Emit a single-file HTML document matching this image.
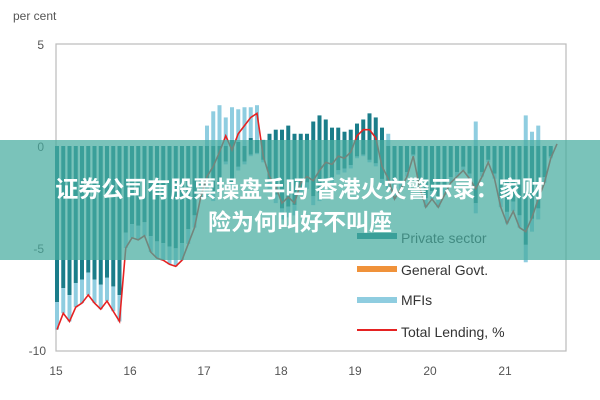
<!DOCTYPE html>
<html><head><meta charset="utf-8"><style>
html,body{margin:0;padding:0;background:#fff;}
#w{position:relative;width:600px;height:400px;overflow:hidden;font-family:"Liberation Sans",sans-serif;}
#banner{position:absolute;left:0;top:140px;width:600px;height:120px;background:rgba(70,172,160,0.72);color:#fff;font-family:"Liberation Sans","Noto Sans CJK SC",sans-serif;font-weight:bold;font-size:23px;text-align:center;line-height:33px;}
#banner div{position:absolute;left:0;width:600px;}
</style></head><body><div id="w">
<svg id="s" width="600" height="400" xmlns="http://www.w3.org/2000/svg" font-family="Liberation Sans, sans-serif">
<text x="13" y="20" font-size="12" fill="#555">per cent</text>
<rect x="56" y="44" width="510" height="307" fill="none" stroke="#bbb" stroke-width="1.2"/>
<g font-size="12" fill="#555" text-anchor="end">
<text x="44" y="49">5</text><text x="44" y="151">0</text><text x="44" y="253">-5</text><text x="46" y="355">-10</text></g>
<g font-size="12" fill="#555" text-anchor="middle">
<text x="56" y="375">15</text><text x="130" y="375">16</text><text x="204" y="375">17</text><text x="281" y="375">18</text><text x="355" y="375">19</text><text x="430" y="375">20</text><text x="505" y="375">21</text></g>
<g id="bars"></g>
<polyline id="line" fill="none" stroke="#e52222" stroke-width="1.6"/>
<g font-size="14" fill="#333">
<rect x="357" y="233" width="40" height="6" fill="#1b7d8a"/><text x="401" y="243">Private sector</text>
<rect x="357" y="266" width="40" height="6" fill="#f0923a"/><text x="401" y="275">General Govt.</text>
<rect x="357" y="297" width="40" height="6" fill="#8fcde0"/><text x="401" y="305">MFIs</text>
<rect x="357" y="329" width="40" height="2" fill="#e52222"/><text x="401" y="337">Total Lending, %</text>
</g>
</svg>
<div id="banner"><div style="top:33px">证券公司有股票操盘手吗 香港火灾警示录：家财</div><div style="top:66px">险为何叫好不叫座</div></div>
</div>
<script>
var v=[-9,-8.2,-8.6,-7.9,-7.7,-7.3,-7.7,-8,-7.6,-8.1,-8.6,-5,-4.5,-4.6,-4.4,-5.2,-5.5,-5.6,-5.8,-5.9,-5.6,-4.8,-4,-2.5,-1.5,-1,-0.3,0.5,-0.2,0.6,1,1.4,1.6,-0.5,-1.5,-2,-2.8,-2.5,-2.8,-1.8,-1.5,-1.7,-1.2,-0.8,-0.9,-0.5,-0.6,-0.3,0.5,0.8,0.8,0.4,-1,-1.6,-2.6,-2.1,-1.5,-0.5,-2,-3,-2.6,-3,-2.4,-1.8,-1.5,-1.2,-1.6,-2.1,-1.5,-0.8,-1.6,-3,-3.8,-3.2,-4,-4.2,-3.5,-2.6,-1.8,-0.6,0.1];
// positive bars (light MFIs 2017, dark private 2018-19)
var pos={24:[0,1.0],25:[0,1.7],26:[0,2.0],27:[0,1.4],28:[0.3,1.6],29:[0.2,1.6],30:[0,1.9],31:[0.4,1.5],32:[0.3,1.7],33:[0.3,0],34:[0.6,0],35:[0.8,0],36:[0.8,0],37:[1.0,0],38:[0.6,0],39:[0.6,0],40:[0.6,0],41:[1.2,0],42:[1.5,0],43:[1.3,0],44:[0.9,0],45:[0.9,0],46:[0.7,0],47:[0.8,0],48:[1.1,0],49:[1.3,0],50:[1.6,0],51:[1.4,0],52:[0.9,0],53:[0,0.6],67:[0,1.2],75:[0,1.5],76:[0,0.7],77:[0,1.0],82:[0,0.9]};
var x0=57,dx=6.25,z=146,k=20.4,b='',p=[];
for(var i=0;i<v.length;i++){var x=x0+i*dx,t=v[i];
 var ps=pos[i]||[0,0];
 if(ps[0]>0)b+='<rect x="'+(x-2)+'" y="'+(z-ps[0]*k)+'" width="4" height="'+(ps[0]*k)+'" fill="#1b7d8a"/>';
 if(ps[1]>0)b+='<rect x="'+(x-2)+'" y="'+(z-(ps[0]+ps[1])*k)+'" width="4" height="'+(ps[1]*k)+'" fill="#8fcde0"/>';
 var neg=t-ps[0]-ps[1]; if(neg<0){var d=neg*0.85,l=neg*0.15;
 b+='<rect x="'+(x-2)+'" y="'+z+'" width="4" height="'+(-d*k)+'" fill="#1b7d8a"/>';
 b+='<rect x="'+(x-2)+'" y="'+(z-d*k)+'" width="4" height="'+(-l*k)+'" fill="#8fcde0"/>';}
 p.push(x+','+(z-t*k));}
document.getElementById('bars').innerHTML=b;
document.getElementById('line').setAttribute('points',p.join(' '));
</script>
</body></html>
